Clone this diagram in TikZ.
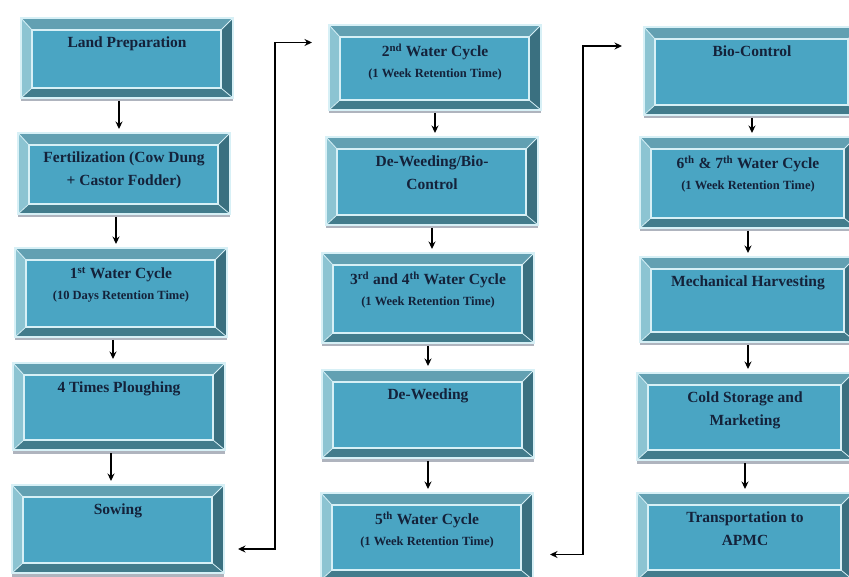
\documentclass[tikz,border=0pt]{standalone}
\usepackage{fontspec}
\setmainfont{Liberation Serif}
\usetikzlibrary{calc,arrows.meta,shadows}
\definecolor{facec}{RGB}{74,165,195}
\definecolor{bevtopc}{RGB}{98,160,178}
\definecolor{bevleftc}{RGB}{140,196,210}
\definecolor{bevrightc}{RGB}{58,112,128}
\definecolor{bevbotc}{RGB}{66,124,140}
\definecolor{lightc}{RGB}{215,240,246}
\definecolor{textc}{RGB}{20,34,58}
\definecolor{shadowc}{RGB}{175,180,190}
\tikzset{
  bev/.style={rectangle, inner sep=0pt, outer sep=0pt, fill=facec, draw=lightc, line width=2.5pt,
    general shadow={fill=shadowc, shadow xshift=0pt, shadow yshift=-3.5pt},
    path picture={
      \coordinate (pNW) at (path picture bounding box.north west);
      \coordinate (pNE) at (path picture bounding box.north east);
      \coordinate (pSW) at (path picture bounding box.south west);
      \coordinate (pSE) at (path picture bounding box.south east);
      \coordinate (iNW) at ($(pNW)+(11pt,-12pt)$);
      \coordinate (iNE) at ($(pNE)+(-12pt,-12pt)$);
      \coordinate (iSW) at ($(pSW)+(11pt,10pt)$);
      \coordinate (iSE) at ($(pSE)+(-12pt,10pt)$);
      \fill[bevtopc] (pNW) -- (pNE) -- (iNE) -- (iNW) -- cycle;
      \fill[bevleftc] (pNW) -- (iNW) -- (iSW) -- (pSW) -- cycle;
      \fill[bevrightc] (pNE) -- (pSE) -- (iSE) -- (iNE) -- cycle;
      \fill[bevbotc] (pSW) -- (iSW) -- (iSE) -- (pSE) -- cycle;
      \draw[lightc, line width=0.8pt] (pNW) -- (iNW) (pNE) -- (iNE) (pSW) -- (iSW) (pSE) -- (iSE);
      \draw[lightc, line width=2pt] (iNW) rectangle (iSE);
    }},
  c1/.style={bev, minimum width=212pt},
  c2/.style={bev, minimum width=212pt},
  c3/.style={bev, minimum width=216pt},
  lab/.style={anchor=north, yshift=-19pt, inner sep=0pt, align=center, text=textc,
    font=\fontsize{15.5}{22.5}\selectfont\bfseries},
  arr/.style={-{Stealth[length=7.5pt,width=7pt]}, line width=1.3pt, black, shorten <=3pt, shorten >=4pt},
  dbl/.style={{Stealth[length=7.5pt,width=7pt]}-{Stealth[length=7.5pt,width=7pt]}, line width=1.3pt, black}
}
\newcommand\subl[1]{\\[-2pt]{\fontsize{12.5}{15}\selectfont #1}}
\begin{document}
\begin{tikzpicture}[x=1pt,y=-1pt]
\useasboundingbox (0,0) rectangle (849,577);
\fill[white] (0,0) rectangle (849,577);
% column 1
\node[c1, minimum height=80pt, label={[lab]north:Land Preparation}] (lp) at (127,58) {};
\node[c1, minimum height=81pt, label={[lab]north:{Fertilization (Cow Dung\\+ Castor Fodder)}}] (fert) at (124,173.5) {};
\node[c1, minimum height=89pt, label={[lab]north:{1\textsuperscript{st} Water Cycle\subl{(10 Days Retention Time)}}}] (w1) at (121,292.5) {};
\node[c1, minimum height=87pt, label={[lab]north:4 Times Ploughing}] (pl) at (119,406.5) {};
\node[c1, minimum height=88pt, label={[lab]north:Sowing}] (sow) at (118,529) {};
% column 2
\node[c2, minimum height=85pt, label={[lab]north:{2\textsuperscript{nd} Water Cycle\subl{(1 Week Retention Time)}}}] (w2) at (435,67.5) {};
\node[c2, minimum height=88pt, label={[lab]north:{De-Weeding/Bio-\\Control}}] (dwbc) at (432,181) {};
\node[c2, minimum height=90pt, label={[lab]north:{3\textsuperscript{rd} and 4\textsuperscript{th} Water Cycle\subl{(1 Week Retention Time)}}}] (w34) at (428,298) {};
\node[c2, minimum height=88pt, label={[lab]north:De-Weeding}] (dw) at (428,414) {};
\node[c2, minimum height=87pt, label={[lab]north:{5\textsuperscript{th} Water Cycle\subl{(1 Week Retention Time)}}}] (w5) at (427,536.5) {};
% column 3
\node[c3, minimum height=88pt, label={[lab]north:Bio-Control}] (bc) at (752,71) {};
\node[c3, minimum height=91pt, label={[lab]north:{6\textsuperscript{th} \& 7\textsuperscript{th} Water Cycle\subl{(1 Week Retention Time)}}}] (w67) at (748,182.5) {};
\node[c3, minimum height=85pt, label={[lab]north:Mechanical Harvesting}] (mh) at (748,299.5) {};
\node[c3, minimum height=87pt, label={[lab]north:{Cold Storage and\\Marketing}}] (cs) at (745,416.5) {};
\node[c3, minimum height=87pt, label={[lab]north:{Transportation to\\APMC}}] (tr) at (745,536.5) {};
% column 1 arrows
\foreach \a/\b in {lp/fert, fert/w1, w1/pl, pl/sow}
  \draw[arr] ([xshift=-8pt]\a.south) -- ([xshift=-8pt]\a.south |- \b.north);
% column 2 arrows
\foreach \a/\b in {w2/dwbc, dwbc/w34, w34/dw, dw/w5}
  \draw[arr] (\a.south) -- (\a.south |- \b.north);
% column 3 arrows
\foreach \a/\b in {bc/w67, w67/mh, mh/cs, cs/tr}
  \draw[arr] (\a.south) -- (\a.south |- \b.north);
% column links
\draw[dbl] ([xshift=14pt,yshift=-20pt]sow.east) -- ++(37pt,0) |- ([xshift=-17pt,yshift=25pt]w2.west);
\draw[dbl] ([xshift=17pt,yshift=-18pt]w5.east) -- ++(33pt,0) |- ([xshift=-22pt,yshift=25pt]bc.west);
\end{tikzpicture}
\end{document}
